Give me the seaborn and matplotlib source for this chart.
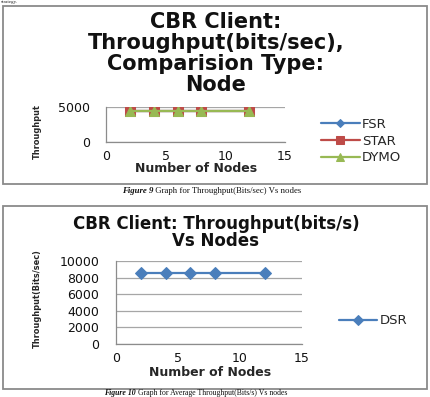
import matplotlib
matplotlib.use("Agg")
import matplotlib.pyplot as plt
import seaborn as sns
import pandas as pd
from matplotlib.patches import Rectangle

# ---------------- data ----------------
nodes = [2, 4, 6, 8, 12]
fsr_tp = [4400, 4400, 4400, 4400, 4400]
star_tp = [4400, 4400, 4400, 4400, 4400]
dymo_tp = [4400, 4400, 4400, 4400, 4400]
dsr_tp = [8500, 8500, 8500, 8500, 8500]

series1 = ["FSR", "STAR", "DYMO"]
series2 = ["DSR"]
x_ticks = [0, 5, 10, 15]
y_ticks1 = [0, 5000]
y_ticks2 = [0, 2000, 4000, 6000, 8000, 10000]

title1_lines = ["CBR Client:", "Throughput(bits/sec),", "Comparision Type:", "Node"]
title2_lines = ["CBR Client: Throughput(bits/s)", "Vs Nodes"]
xlabel_text = "Number of Nodes"
ylabel1_text = "Throughput"
ylabel2_text = "Throughput(Bits/sec)"
cap1_a, cap1_b = "Figure 9", " Graph for Throughput(Bits/sec) Vs nodes"
cap2_a, cap2_b = "Figure 10", " Graph for Average Throughput(Bits/s) Vs nodes"

df1 = pd.DataFrame({"Nodes": nodes * 3,
                    "Throughput": fsr_tp + star_tp + dymo_tp,
                    "Protocol": [s for s in series1 for _ in nodes]})
df2 = pd.DataFrame({"Nodes": nodes, "Throughput": dsr_tp,
                    "Protocol": ["DSR"] * len(nodes)})

# ---------------- style ----------------
sns.set_theme(style="white")
plt.rcParams["font.family"] = ["DejaVu Sans"]

W, H = 431, 397
fig = plt.figure(figsize=(W / 100, H / 100), dpi=100)
fig.patch.set_facecolor("white")

def fx(px):
    return px / W

def fy(py):
    return 1 - py / H

colors = {"FSR": "#4A7EBB", "STAR": "#BE4B48", "DYMO": "#98B954", "DSR": "#4A7EBB"}
markers = {"FSR": "D", "STAR": "s", "DYMO": "^", "DSR": "D"}
msizes = {"FSR": 5.5, "STAR": 7, "DYMO": 7, "DSR": 6.5}

# frames
for (x0, y0, x1, y1) in [(3, 6, 427, 184), (3, 206, 427, 389)]:
    fig.add_artist(Rectangle((fx(x0), fy(y1)), fx(x1) - fx(x0), fy(y0) - fy(y1),
                             transform=fig.transFigure, fill=False,
                             edgecolor="#8a8a8a", lw=1.3))

# small text at the very top
fig.text(fx(1), fy(0.2), "strategy.", family="Liberation Serif", fontsize=3.6,
         va="top", ha="left", color="#222222")

# ---------------- axes 1 ----------------
ax1 = fig.add_axes([fx(106), fy(142), fx(285) - fx(106), fy(107) - fy(142)])
for s in series1:
    d = df1[df1["Protocol"] == s]
    sns.lineplot(data=d, x="Nodes", y="Throughput", ax=ax1, color=colors[s],
                 marker=markers[s], markersize=msizes[s], mec=colors[s],
                 lw=1.6, label=s)

# ---------------- axes 2 ----------------
ax2 = fig.add_axes([fx(116), fy(344), fx(302) - fx(116), fy(261) - fy(344)])
sns.lineplot(data=df2, x="Nodes", y="Throughput", ax=ax2, color=colors["DSR"],
             marker=markers["DSR"], markersize=msizes["DSR"], mec=colors["DSR"],
             lw=1.6, label="DSR")

for ax, yt, pad in [(ax1, y_ticks1, 11.5), (ax2, y_ticks2, 12)]:
    ax.set_xlim(0, 15)
    ax.set_ylim(yt[0], yt[-1])
    ax.set_xticks(x_ticks)
    ax.set_yticks(yt)
    ax.set_facecolor("white")
    ax.grid(axis="y", color="#a6a6a6", lw=0.9)
    ax.grid(axis="x", visible=False)
    for sp in ["top", "right"]:
        ax.spines[sp].set_visible(False)
    for sp in ["left", "bottom"]:
        ax.spines[sp].set_color("#8c8c8c")
        ax.spines[sp].set_linewidth(0.9)
    ax.tick_params(axis="y", length=0, pad=pad, labelsize=9, labelcolor="#111111")
    ax.tick_params(axis="x", length=0, pad=6, labelsize=9, labelcolor="#111111")

# axis labels
ax1.set_xlabel(xlabel_text, fontsize=9, fontweight="bold", va="center")
ax1.xaxis.set_label_coords(0.503, (142 - 169) / 35)
ax2.set_xlabel(xlabel_text, fontsize=9, fontweight="bold", va="center")
ax2.xaxis.set_label_coords(0.505, (344 - 373) / 83)

ax1.set_ylabel(ylabel1_text, fontsize=6.6, fontweight="bold", fontstretch="condensed",
               va="center", ha="center")
ax1.yaxis.set_label_coords((37.5 - 106) / 179, (142 - 131.5) / 35)
ax2.set_ylabel(ylabel2_text, fontsize=6.6, fontweight="bold", fontstretch="condensed",
               va="center", ha="center")
ax2.yaxis.set_label_coords((37.5 - 116) / 186, (344 - 298.5) / 83)

# legends
ax1.legend(loc="center left", bbox_to_anchor=(fx(321), fy(141)),
           bbox_transform=fig.transFigure, frameon=False, fontsize=9.5,
           handlelength=2.95, handletextpad=0.15, labelspacing=0.3,
           borderpad=0, borderaxespad=0, markerscale=0.8)
ax2.legend(loc="center left", bbox_to_anchor=(fx(339), fy(321)),
           bbox_transform=fig.transFigure, frameon=False, fontsize=9.5,
           handlelength=2.9, handletextpad=0.2, borderpad=0, borderaxespad=0,
           markerscale=0.8)

# titles
for txt, yy in zip(title1_lines, [22, 43, 64, 85]):
    fig.text(fx(216), fy(yy), txt, ha="center", va="center", fontsize=15,
             fontweight="bold", color="#111111")
for txt, yy in zip(title2_lines, [224, 241]):
    fig.text(fx(216), fy(yy), txt, ha="center", va="center", fontsize=12,
             fontweight="bold", color="#111111")

# captions
def caption(xpx, ypx, a, b, va, size):
    t1 = fig.text(fx(xpx), fy(ypx), a, family="Liberation Serif", fontsize=size,
                  fontweight="bold", style="italic", va=va, ha="left", color="#111111")
    ann = matplotlib.text.Annotation(b, xy=(1, 0), xycoords=t1, va="bottom", ha="left",
                                     family="Liberation Serif", fontsize=size,
                                     color="#111111", annotation_clip=False)
    fig.add_artist(ann)

caption(122, 191, cap1_a, cap1_b, "center", 6.3)
caption(104, 396.6, cap2_a, cap2_b, "bottom", 5.6)

fig.savefig("out.png", dpi=100, facecolor="white")
